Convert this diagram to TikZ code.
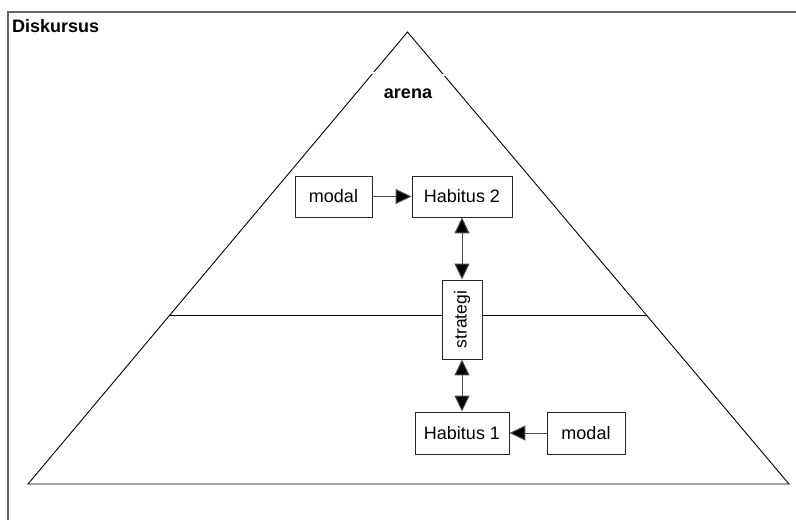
\documentclass[tikz,border=0pt]{standalone}
\usepackage{fontspec}
\setmainfont{Liberation Sans}
\usetikzlibrary{arrows.meta,calc}
\begin{document}
\begin{tikzpicture}[x=1pt,y=-1pt,
  box/.style={draw=black!85,line width=0.9pt,fill=white,inner sep=0pt,font=\fontsize{18}{21}\selectfont},
  tip/.tip={Triangle[length=16pt,width=15pt,fill=black]},
  conn/.style={draw=black!70,line width=1pt,-tip},
  dconn/.style={draw=black!70,line width=1pt,tip-tip},
  edge/.style={draw=black,line width=0.9pt},
  lbl/.style={font=\bfseries\fontsize{18}{21}\selectfont,inner sep=0pt}]
\useasboundingbox (0,0) rectangle (796,520);
% outer frame (cropped on right and bottom)
\coordinate (fbl) at (8,520);
\coordinate (ftl) at (8,12);
\coordinate (ftr) at (796,12);
\draw[draw=black!60,line width=1.1pt] (fbl) -- (ftl) -- (ftr);
\node[lbl,anchor=west] (disk) at (12,26) {Diskursus};
% triangle
\coordinate (apex) at (407.5,32);
\coordinate (bl) at (28,484);
\coordinate (br) at (789,484);
\draw[edge] (apex) -- (bl) -- (br) -- cycle;
\coordinate (ml) at ($(apex)!0.626!(bl)$);
\coordinate (mr) at ($(apex)!0.626!(br)$);
\draw[edge] (ml) -- (mr);
% small gaps in the sides
\coordinate (gl1) at (368,72.5);
\coordinate (gl2) at (378,72.5);
\coordinate (gr1) at (440,75);
\coordinate (gr2) at (450,75);
\draw[white,line width=2pt] (gl1) -- (gl2) (gr1) -- (gr2);
\node[lbl] (arena) at (408,94) {arena};
% boxes
\node[box,minimum width=77pt,minimum height=41pt] (modalA) at (333.5,196.5) {modal};
\node[box,minimum width=100pt,minimum height=41pt] (hab2) at (462,196.5) {Habitus 2};
\node[box,minimum width=40pt,minimum height=79pt] (strat) at (462,319.5) {\rotatebox{90}{\fontsize{17.5}{20}\selectfont strategi}};
\node[box,minimum width=94pt,minimum height=42pt] (hab1) at (462,433) {Habitus 1};
\node[box,minimum width=78pt,minimum height=42pt] (modalB) at (586,433) {modal};
% connectors
\draw[conn] (modalA.east) -- (hab2.west);
\draw[dconn] (hab2.south) -- (strat.north);
\draw[dconn] (strat.south) -- (hab1.north);
\draw[conn] (modalB.west) -- (hab1.east);
\end{tikzpicture}
\end{document}
